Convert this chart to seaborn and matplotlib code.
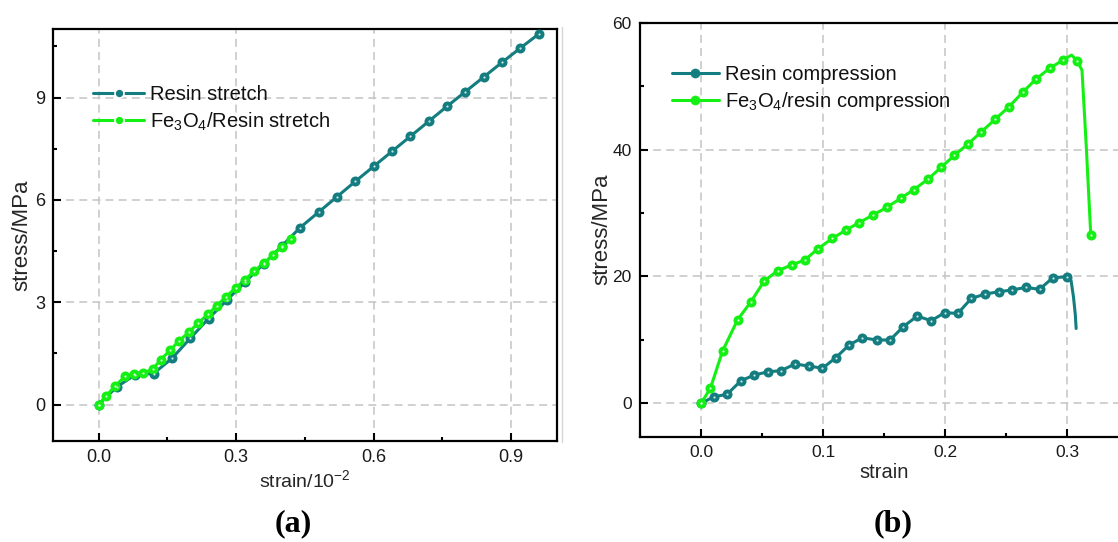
import matplotlib
matplotlib.use("Agg")
import matplotlib.pyplot as plt
from matplotlib.lines import Line2D
from matplotlib.ticker import MultipleLocator
import pandas as pd
import seaborn as sns

# ---- (a) tensile tests: strain (x10^-2) vs stress (MPa) ----
stretch_strain_resin = [0.0, 0.04, 0.08, 0.12, 0.16, 0.20, 0.24, 0.28, 0.32, 0.36, 0.40,
                        0.44, 0.48, 0.52, 0.56, 0.60, 0.64, 0.68, 0.72, 0.76, 0.80,
                        0.84, 0.88, 0.92, 0.96]
stretch_stress_resin = [0.0, 0.52, 0.87, 0.91, 1.35, 1.94, 2.52, 3.06, 3.60, 4.12, 4.65,
                        5.19, 5.64, 6.09, 6.54, 6.98, 7.42, 7.86, 8.30, 8.74, 9.17,
                        9.60, 10.03, 10.45, 10.86]
stretch_strain_fe = [0.0, 0.016, 0.036, 0.058, 0.078, 0.098, 0.118, 0.136, 0.156, 0.176,
                     0.198, 0.218, 0.238, 0.258, 0.278, 0.300, 0.320, 0.340, 0.360,
                     0.380, 0.400, 0.420]
stretch_stress_fe = [0.0, 0.24, 0.54, 0.83, 0.91, 0.93, 1.03, 1.32, 1.59, 1.87,
                     2.13, 2.40, 2.64, 2.90, 3.16, 3.43, 3.66, 3.92, 4.14,
                     4.37, 4.63, 4.84]

# ---- (b) compression tests: strain vs stress (MPa) ----
comp_strain_resin = [0.0, 0.0104, 0.0212, 0.0327, 0.0436, 0.0550, 0.0654, 0.0768, 0.0885,
                     0.0994, 0.1103, 0.1212, 0.1321, 0.1438, 0.1547, 0.1656, 0.1770,
                     0.1885, 0.1994, 0.2103, 0.2214, 0.2329, 0.2437, 0.2546, 0.2660,
                     0.2772, 0.2881, 0.2996]
comp_stress_resin = [0.0, 1.04, 1.41, 3.57, 4.46, 4.98, 5.14, 6.19, 5.88,
                     5.52, 7.19, 9.19, 10.34, 9.98, 9.98, 12.07, 13.76,
                     13.02, 14.28, 14.18, 16.55, 17.23, 17.59, 17.86, 18.28,
                     17.97, 19.80, 19.95]
# failure branch recorded without sample markers
comp_tail_strain_resin = [0.3030, 0.3050, 0.3065, 0.3072]
comp_tail_stress_resin = [19.4, 16.8, 14.0, 11.8]

comp_strain_fe = [0.0, 0.0076, 0.0177, 0.0300, 0.0408, 0.0517, 0.0627, 0.0741, 0.0850,
                  0.0959, 0.1076, 0.1185, 0.1297, 0.1409, 0.1522, 0.1634, 0.1743,
                  0.1857, 0.1966, 0.2075, 0.2187, 0.2296, 0.2410, 0.2519, 0.2633,
                  0.2742, 0.2854, 0.2963, 0.3083, 0.3192]
comp_stress_fe = [0.0, 2.36, 8.3, 13.2, 16.0, 19.3, 20.9, 21.8, 22.6,
                  24.4, 26.0, 27.3, 28.5, 29.7, 30.9, 32.3, 33.7,
                  35.3, 37.2, 39.1, 40.9, 42.8, 44.8, 46.7, 49.0,
                  51.1, 52.8, 54.1, 53.9, 26.5]
comp_tail_strain_fe = [0.3035, 0.3120, 0.3155, 0.3180]
comp_tail_stress_fe = [54.9, 52.5, 40.5, 31.0]

TEAL = "#137d7f"
LIME = "#14f014"
TEAL_HI = "#c8e6e6"
LIME_HI = "#d8ffd8"

sns.set_theme(style="white")
plt.rcParams["font.family"] = ["Liberation Sans", "DejaVu Sans"]
plt.rcParams["mathtext.fontset"] = "custom"
plt.rcParams["mathtext.rm"] = "Liberation Sans"
plt.rcParams["mathtext.it"] = "Liberation Sans"
plt.rcParams["mathtext.default"] = "regular"
plt.rcParams["text.color"] = "#111111"

fig = plt.figure(figsize=(11.18, 5.42), dpi=100)
ax_a = fig.add_axes([0.0471, 0.1869, 0.4511, 0.7590])
ax_b = fig.add_axes([0.5725, 0.1943, 0.4368, 0.7638])


def draw_curve(ax, xs, ys, tail_x, tail_y, color, hi):
    df = pd.DataFrame({"x": list(xs) + list(tail_x), "y": list(ys) + list(tail_y)})
    sns.lineplot(data=df, x="x", y="y", ax=ax, color=color, lw=2.2,
                 estimator=None, sort=True, legend=False, zorder=3)
    sns.scatterplot(x=xs, y=ys, ax=ax, color=color, s=52, linewidth=0,
                    legend=False, zorder=4)
    sns.scatterplot(x=xs, y=ys, ax=ax, color=hi, s=2.5, linewidth=0,
                    legend=False, zorder=5)


draw_curve(ax_a, stretch_strain_resin, stretch_stress_resin, [], [], TEAL, TEAL_HI)
draw_curve(ax_a, stretch_strain_fe, stretch_stress_fe, [], [], LIME, LIME_HI)
draw_curve(ax_b, comp_strain_resin, comp_stress_resin,
           comp_tail_strain_resin, comp_tail_stress_resin, TEAL, TEAL_HI)
draw_curve(ax_b, comp_strain_fe, comp_stress_fe,
           comp_tail_strain_fe, comp_tail_stress_fe, LIME, LIME_HI)


def style_axes(ax, xlim, ylim, xmaj, ymaj, fs, ypad):
    ax.set_xlim(*xlim)
    ax.set_ylim(*ylim)
    ax.xaxis.set_major_locator(MultipleLocator(xmaj))
    ax.xaxis.set_minor_locator(MultipleLocator(xmaj / 2))
    ax.yaxis.set_major_locator(MultipleLocator(ymaj))
    ax.yaxis.set_minor_locator(MultipleLocator(ymaj / 2))
    for sp in ax.spines.values():
        sp.set_color("black")
        sp.set_linewidth(1.6)
    ax.tick_params(which="both", direction="in", top=False, right=False,
                   bottom=True, left=True, color="black", width=1.5)
    ax.tick_params(which="major", length=5.5)
    ax.tick_params(which="minor", length=3)
    ax.tick_params(axis="x", which="major", pad=6, labelsize=fs, labelcolor="#1a1a1a")
    ax.tick_params(axis="y", which="major", pad=ypad, labelsize=fs, labelcolor="#1a1a1a")
    ax.grid(True, which="major", color="#c4c4c4", lw=1.1, linestyle=(0, (5.2, 3.4)))
    ax.set_axisbelow(True)


style_axes(ax_a, (-0.1, 1.0), (-1.06, 11.0), 0.3, 3, 13, 5)
style_axes(ax_b, (-0.05, 0.35), (-5.26, 60), 0.1, 20, 12.5, 6)

ax_a.set_xticks([0.0, 0.3, 0.6, 0.9])
ax_a.set_xticklabels(["0.0", "0.3", "0.6", "0.9"])
ax_a.set_yticks([0, 3, 6, 9])
ax_b.set_xticks([0.0, 0.1, 0.2, 0.3])
ax_b.set_xticklabels(["0.0", "0.1", "0.2", "0.3"])
ax_b.set_yticks([0, 20, 40, 60])

ax_a.set_xlabel("strain/10$^{-2}$", fontsize=14, labelpad=2)
ax_a.set_ylabel("stress/MPa", fontsize=16, labelpad=2)
ax_b.set_xlabel("strain", fontsize=14.5, labelpad=2)
ax_b.set_ylabel("stress/MPa", fontsize=16, labelpad=0)


def legend_handle(color, ring):
    return Line2D([], [], color=color, lw=2.2, marker="o", ms=6.5,
                  mfc=color, mec="white" if ring else color, mew=1.2 if ring else 0.5)


ax_a.legend(handles=[legend_handle(TEAL, True), legend_handle(LIME, True)],
            labels=["Resin stretch", "Fe$_3$O$_4$/Resin stretch"],
            loc="upper left", bbox_to_anchor=(0.080, 0.864), frameon=False,
            fontsize=14.5, handlelength=2.55, handletextpad=0.3,
            labelspacing=0.3, borderpad=0, borderaxespad=0, numpoints=1)
ax_b.legend(handles=[legend_handle(TEAL, False), legend_handle(LIME, False)],
            labels=["Resin compression", "Fe$_3$O$_4$/resin compression"],
            loc="upper left", bbox_to_anchor=(0.065, 0.898), frameon=False,
            fontsize=14.5, handlelength=2.35, handletextpad=0.3,
            labelspacing=0.3, borderpad=0, borderaxespad=0, numpoints=1)

# thin divider at the edge of panel (b)
fig.add_artist(Line2D([561.5 / 1118, 561.5 / 1118], [1 - 442 / 542, 1 - 27 / 542],
                      transform=fig.transFigure, color="#d6d6d6", lw=1.0))

fig.text(293 / 1118, 1 - 524 / 542, "(a)", ha="center", va="center",
         fontsize=23, fontweight="bold", family=["Liberation Serif", "DejaVu Serif"],
         color="black")
fig.text(893 / 1118, 1 - 524 / 542, "(b)", ha="center", va="center",
         fontsize=23, fontweight="bold", family=["Liberation Serif", "DejaVu Serif"],
         color="black")

fig.savefig("out.png", dpi=100, facecolor="white")
